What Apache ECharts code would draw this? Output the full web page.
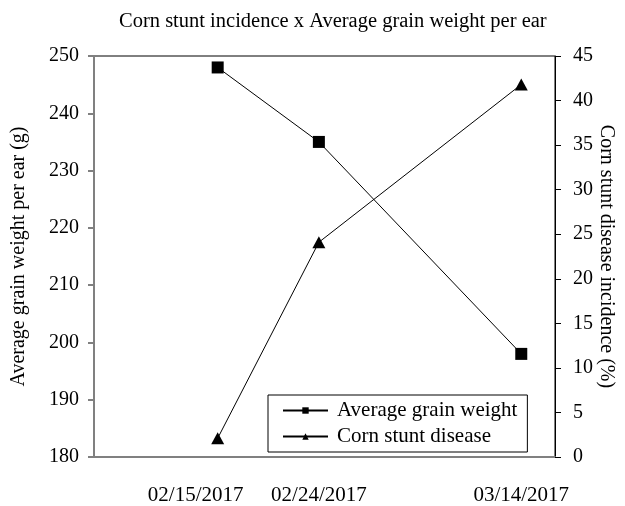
<!DOCTYPE html>
<html>
<head>
<meta charset="utf-8">
<script src="https://cdn.jsdelivr.net/npm/echarts@6/dist/echarts.min.js"></script>
<style>html,body{margin:0;padding:0;background:#fff}#c{width:625px;height:506px}</style>
</head>
<body>
<div id="c"></div>
<script>
var dates = ['02/15/2017', '02/24/2017', '03/14/2017'];
var grainWeight = [248, 235, 198];
var stuntIncidence = [2.1, 24.1, 41.8];
var axisMinDate = '02/04/2017';
var axisMaxDate = '03/17/2017';
var titleText = 'Corn stunt incidence x Average grain weight per ear';
var leftName = 'Average grain weight per ear (g)';
var rightName = 'Corn stunt disease incidence (%)';
var seriesNames = ['Average grain weight', 'Corn stunt disease'];

var DAY = 86400000;
function toDay(s) { var p = s.split('/'); return Math.round(Date.UTC(+p[2], +p[0] - 1, +p[1]) / DAY); }
var xs = dates.map(toDay);
function fmt(v) {
  var i = xs.indexOf(Math.round(v));
  return i >= 0 ? dates[i] : '';
}
var font = 'Liberation Serif';
var chart = echarts.init(document.getElementById('c'), null, {renderer: 'canvas'});
chart.setOption({
  animation: false,
  backgroundColor: '#fff',
  title: {
    text: titleText, left: 114, top: 6,
    textStyle: {fontFamily: font, fontSize: 20.5, fontWeight: 'normal', color: '#000'}
  },
  grid: {left: 94, right: 70, top: 56, bottom: 49, outerBoundsMode: 'none', containLabel: false,
    show: true, borderColor: '#000', borderWidth: 1, backgroundColor: 'transparent'},
  legend: {
    orient: 'vertical', left: 268, top: 395,
    backgroundColor: '#fff', borderColor: '#000', borderWidth: 1,
    padding: [5, 10, 5, 14], itemGap: 5, itemWidth: 45, itemHeight: 8,
    textStyle: {fontFamily: font, fontSize: 21, color: '#000', padding: [0, 0, 0, 4]},
    data: seriesNames
  },
  xAxis: {
    type: 'value', min: toDay(axisMinDate), max: toDay(axisMaxDate),
    axisLine: {lineStyle: {color: '#808080', width: 2}},
    axisTick: {show: false},
    splitLine: {show: false},
    axisLabel: {
      customValues: xs, margin: 28, color: '#000', fontFamily: font, fontSize: 21,
      formatter: function (v) {
        var s = fmt(v);
        return s === dates[0] ? '{a|' + s + '}' : s;
      },
      rich: {a: {fontFamily: font, fontSize: 21, color: '#000', padding: [0, 44, 0, 0]}}
    }
  },
  yAxis: [{
    type: 'value', min: 180, max: 250, interval: 10, position: 'left',
    name: leftName, nameLocation: 'middle', nameGap: 65, nameRotate: 90,
    nameTextStyle: {fontFamily: font, fontSize: 20, color: '#000'},
    axisLine: {show: true, lineStyle: {color: '#808080', width: 2}},
    axisTick: {show: true, length: 6, lineStyle: {color: '#808080', width: 2}},
    splitLine: {show: false},
    axisLabel: {margin: 15, color: '#000', fontFamily: font, fontSize: 20}
  }, {
    type: 'value', min: 0, max: 45, interval: 5, position: 'right',
    name: rightName, nameLocation: 'middle', nameGap: 41, nameRotate: -90, nameMoveOverlap: false,
    nameTextStyle: {fontFamily: font, fontSize: 20, color: '#000'},
    axisLine: {show: true, lineStyle: {color: '#000', width: 1}},
    axisTick: {show: true, length: 6, lineStyle: {color: '#000', width: 1}},
    splitLine: {show: false},
    axisLabel: {margin: 18, color: '#000', fontFamily: font, fontSize: 20}
  }],
  series: [{
    name: seriesNames[0], type: 'line', yAxisIndex: 0,
    data: xs.map(function (x, i) { return [x, grainWeight[i]]; }),
    symbol: 'rect', symbolSize: 12,
    lineStyle: {color: '#000', width: 1}, itemStyle: {color: '#000'}
  }, {
    name: seriesNames[1], type: 'line', yAxisIndex: 1,
    data: xs.map(function (x, i) { return [x, stuntIncidence[i]]; }),
    symbol: 'triangle', symbolSize: [13, 12],
    lineStyle: {color: '#000', width: 1}, itemStyle: {color: '#000'}
  }]
});
</script>
</body>
</html>
